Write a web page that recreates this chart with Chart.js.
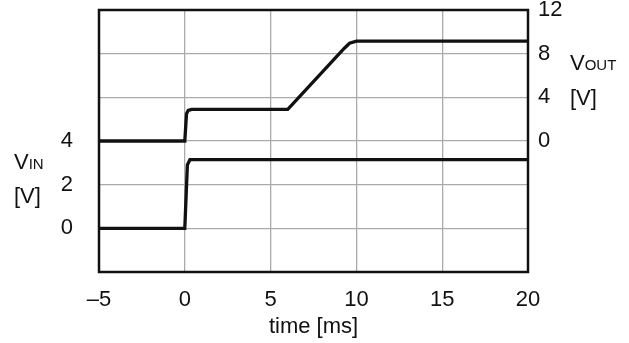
<!DOCTYPE html>
<html>
<head>
<meta charset="utf-8">
<script src="https://cdn.jsdelivr.net/npm/chart.js@4/dist/chart.umd.min.js"></script>
<style>
  html, body { margin: 0; padding: 0; background: #fff; }
  #c { display: block; }
</style>
</head>
<body>
<canvas id="c" width="629" height="343"></canvas>
<script>
// ---- data ----
const voutTime  = [-5, 0, 0.1, 0.2, 0.4, 6, 9.3, 9.6, 10, 20];
const voutVolts = [0, 0, 2.5, 2.8, 2.9, 2.9, 8.5, 8.95, 9.15, 9.15];
const vinTime   = [-5, 0, 0.15, 0.3, 20];
const vinVolts  = [0, 0, 2.9, 3.15, 3.15];

// ---- axes / tick labels ----
const xTicks = [-5, 0, 5, 10, 15, 20];
const xTickLabels = ['\u20135', '0', '5', '10', '15', '20'];
const vinTicksShown = [0, 2, 4];
const voutTicksShown = [0, 4, 8, 12];
const xTitle = 'time [ms]';
const vinLabel = ['V', 'IN', '[V]'];
const voutLabel = ['V', 'OUT', '[V]'];

const FONT = "'Liberation Sans', Arial, Helvetica, sans-serif";
const TXT = '#111';

const toPoints = (xs, ys) => xs.map((x, i) => ({ x: x, y: ys[i] }));

const framePlugin = {
  id: 'frame',
  afterDatasetsDraw(chart) {
    const { ctx, chartArea: a } = chart;
    ctx.save();
    ctx.strokeStyle = '#111';
    ctx.lineWidth = 2.5;
    ctx.strokeRect(a.left, a.top, a.right - a.left, a.bottom - a.top);
    ctx.restore();
  }
};

const labelPlugin = {
  id: 'sideLabels',
  afterDraw(chart) {
    const { ctx } = chart;
    ctx.save();
    ctx.fillStyle = TXT;
    ctx.textBaseline = 'alphabetic';
    ctx.textAlign = 'left';
    function sub(parts, x, y1, y2) {
      ctx.font = '22px ' + FONT;
      ctx.fillText(parts[0], x, y1);
      const w = ctx.measureText(parts[0]).width;
      ctx.font = '15px ' + FONT;
      ctx.fillText(parts[1], x + w, y1);
      ctx.font = '22px ' + FONT;
      ctx.fillText(parts[2], x, y2);
    }
    sub(vinLabel, 14, 169, 203);
    sub(voutLabel, 570, 70, 105);
    ctx.restore();
  }
};

function noPadY(s) { s.paddingTop = 0; s.paddingBottom = 0; }

new Chart(document.getElementById('c'), {
  type: 'line',
  data: {
    datasets: [
      {
        label: 'VOUT',
        data: toPoints(voutTime, voutVolts),
        yAxisID: 'y2',
        borderColor: '#111',
        borderWidth: 3.3,
        pointRadius: 0,
        tension: 0,
        fill: false
      },
      {
        label: 'VIN',
        data: toPoints(vinTime, vinVolts),
        yAxisID: 'y',
        borderColor: '#111',
        borderWidth: 3.3,
        pointRadius: 0,
        tension: 0,
        fill: false
      }
    ]
  },
  options: {
    responsive: false,
    animation: false,
    devicePixelRatio: 1,
    layout: { padding: { top: 10, left: 0, right: 0, bottom: 0 } },
    plugins: { legend: { display: false }, tooltip: { enabled: false } },
    scales: {
      x: {
        type: 'linear',
        min: xTicks[0],
        max: xTicks[xTicks.length - 1],
        afterBuildTicks(s) { s.ticks = xTicks.map(v => ({ value: v })); },
        afterFit(s) { s.height = 71; s.paddingLeft = 0; s.paddingRight = 0; },
        border: { display: false },
        grid: { color: '#aaaaaa', lineWidth: 1.3, drawTicks: false },
        ticks: {
          autoSkip: false,
          maxRotation: 0,
          padding: 15,
          color: TXT,
          font: { family: FONT, size: 22 },
          callback(v) { const i = xTicks.indexOf(v); return i >= 0 ? xTickLabels[i] : ''; }
        },
        title: {
          display: true,
          text: xTitle,
          color: TXT,
          font: { family: FONT, size: 22 },
          padding: { top: 0, bottom: 3 }
        }
      },
      y: {
        position: 'left',
        min: -2,
        max: 10,
        afterFit(s) { s.width = 99; noPadY(s); },
        border: { display: false },
        grid: { color: '#aaaaaa', lineWidth: 1.3, drawTicks: false },
        ticks: {
          stepSize: 2,
          autoSkip: false,
          padding: 26,
          color: TXT,
          font: { family: FONT, size: 22 },
          callback(v) { return vinTicksShown.includes(v) ? String(v) : ''; }
        }
      },
      y2: {
        position: 'right',
        min: -12,
        max: 12,
        afterFit(s) { s.width = 101; noPadY(s); },
        border: { display: false },
        grid: { display: false, drawOnChartArea: false, drawTicks: false },
        ticks: {
          stepSize: 4,
          autoSkip: false,
          padding: 10,
          color: TXT,
          font: { family: FONT, size: 22 },
          callback(v) { return voutTicksShown.includes(v) ? String(v) : ''; }
        }
      }
    }
  },
  plugins: [framePlugin, labelPlugin]
});
</script>
</body>
</html>
